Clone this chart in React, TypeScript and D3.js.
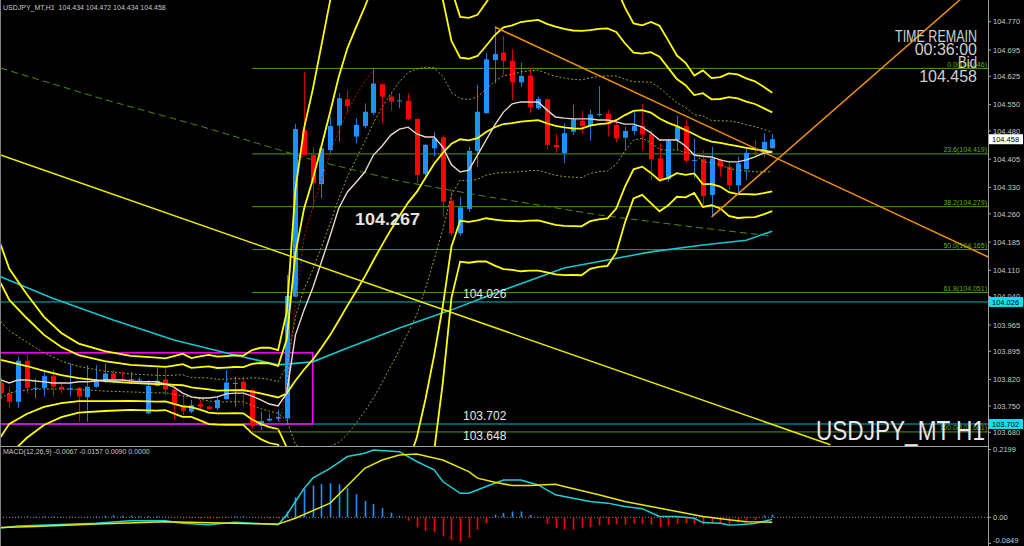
import React from "react";
import * as d3 from "d3";

// ---------- DATA ----------
const FIRST_BAR = -1; // index of first (partial) bar
const opens = [103.811,103.783,103.761,103.870,103.795,103.798,103.829,103.801,103.795,103.798,103.773,103.801,103.815,103.836,103.821,103.820,103.819,103.730,103.803,103.820,103.794,103.752,103.735,103.755,103.748,103.744,103.768,103.810,103.814,103.792,103.697,103.711,103.716,103.717,104.040,104.482,104.416,104.339,104.429,104.494,104.564,104.465,104.493,104.528,104.604,104.571,104.559,104.560,104.512,104.366,104.434,104.463,104.295,104.208,104.273,104.427,104.527,104.668,104.688,104.666,104.609,104.627,104.540,104.564,104.443,104.421,104.478,104.507,104.493,104.524,104.525,104.496,104.462,104.480,104.494,104.472,104.407,104.352,104.456,104.493,104.402,104.405,104.310,104.403,104.385,104.336,104.379,104.422,104.419,104.434];
const highs = [103.824,103.801,103.881,103.890,103.823,103.845,103.847,103.810,103.863,103.800,103.858,103.858,103.863,103.845,103.841,103.840,103.826,103.819,103.850,103.850,103.801,103.779,103.766,103.766,103.752,103.775,103.845,103.828,103.828,103.797,103.735,103.730,103.739,104.098,104.498,104.637,104.438,104.434,104.518,104.580,104.589,104.513,104.553,104.646,104.607,104.580,104.580,104.580,104.512,104.446,104.478,104.469,104.319,104.305,104.438,104.602,104.686,104.756,104.732,104.697,104.661,104.646,104.571,104.566,104.472,104.500,104.549,104.534,104.537,104.599,104.536,104.505,104.491,104.531,104.552,104.482,104.447,104.460,104.520,104.511,104.460,104.429,104.438,104.407,104.394,104.412,104.434,104.456,104.474,104.472];
const lows = [103.771,103.744,103.745,103.783,103.770,103.775,103.775,103.783,103.775,103.708,103.708,103.798,103.810,103.810,103.810,103.808,103.815,103.730,103.801,103.779,103.713,103.726,103.730,103.739,103.739,103.739,103.766,103.748,103.748,103.691,103.686,103.708,103.708,103.699,104.040,104.416,104.275,104.301,104.421,104.451,104.527,104.447,104.487,104.522,104.500,104.534,104.540,104.509,104.341,104.362,104.412,104.252,104.201,104.201,104.265,104.385,104.527,104.606,104.628,104.562,104.597,104.527,104.536,104.431,104.421,104.394,104.469,104.474,104.454,104.518,104.465,104.449,104.429,104.469,104.429,104.350,104.345,104.345,104.429,104.394,104.354,104.283,104.252,104.358,104.323,104.314,104.350,104.412,104.412,104.434];
const closes = [103.784,103.761,103.870,103.798,103.798,103.829,103.801,103.795,103.797,103.775,103.801,103.815,103.836,103.820,103.820,103.820,103.820,103.803,103.817,103.794,103.752,103.737,103.752,103.748,103.742,103.766,103.812,103.811,103.792,103.697,103.710,103.716,103.721,104.042,104.485,104.416,104.341,104.434,104.493,104.567,104.546,104.496,104.531,104.606,104.571,104.558,104.561,104.511,104.363,104.443,104.460,104.292,104.208,104.277,104.427,104.531,104.670,104.684,104.666,104.609,104.626,104.543,104.565,104.443,104.437,104.474,104.511,104.493,104.524,104.525,104.498,104.460,104.480,104.494,104.471,104.405,104.352,104.454,104.491,104.401,104.403,104.307,104.407,104.385,104.336,104.394,104.422,104.419,104.451,104.458];

// fast MA (pale line), one value per bar
const fastMA = [103.819,103.811,103.819,103.819,103.816,103.814,103.811,103.811,103.811,103.814,103.814,103.816,103.819,103.819,103.819,103.816,103.814,103.814,103.814,103.808,103.800,103.784,103.774,103.771,103.771,103.774,103.782,103.784,103.784,103.776,103.766,103.755,103.750,103.784,103.938,104.005,104.063,104.132,104.201,104.275,104.318,104.344,104.371,104.416,104.440,104.469,104.485,104.490,104.472,104.464,104.464,104.437,104.390,104.371,104.376,104.416,104.456,104.496,104.530,104.552,104.557,104.557,104.557,104.536,104.517,104.514,104.512,104.512,104.512,104.509,104.509,104.504,104.498,104.498,104.490,104.475,104.456,104.456,104.456,104.440,104.416,104.413,104.411,104.403,104.398,104.398,104.403,104.411,104.421,104.424];

// Bollinger band readings for bars whose 20-bar window starts off-screen
const bbEarlyK = [-1, 0, 2, 4, 6, 8, 11, 14, 17];
const bbEarlyMid = [103.872, 103.867, 103.856, 103.843, 103.832, 103.824, 103.816, 103.811, 103.808];
const bbEarlyDev = [0.1022, 0.0823, 0.0637, 0.0478, 0.0372, 0.0305, 0.0265, 0.0239, 0.0234];
const BB_PERIOD = 20;

// slow MAs read at sample bars [bar, price]
const greenMA: [number, number][] = [[-1,104.647],[10,104.570],[22,104.493],[35,104.403],[45,104.347],[54,104.310],[68,104.257],[80,104.222],[88,104.201]];
const cyanMA: [number, number][] = [[-1,104.093],[5,104.036],[12,103.978],[19,103.925],[26,103.885],[31,103.859],[35,103.867],[39,103.904],[45,103.957],[51,104.005],[57,104.058],[64,104.116],[74,104.159],[80,104.177],[85,104.190],[88,104.214]];
const redDotted: [number, number][] = [[31,103.686],[32,103.800],[33,104.020],[34,104.198],[35,104.278],[36,104.350],[37,104.420],[38,104.480],[39,104.530],[40,104.575],[41,104.610],[42,104.642]];

// trend lines [bar, price] anchors
const yellowTrend: [number, number][] = [[-1,104.416],[94.7,103.647]];
const orangeDown: [number, number][] = [[56,104.756],[88.9,104.403]];
const orangeUp: [number, number][] = [[81,104.252],[107,104.775]];

// fibonacci
const fibStartBar = 28;
const fibRatios = ["0.0","23.6","38.2","50.0","61.8","100.0"];
const fibValues = [104.646,104.419,104.279,104.165,104.051,103.681];

// rectangle
const rectBars = [-3, 35];
const rectPrices = [103.891, 103.702];

// horizontal lines & labels
const hLines = [104.026, 103.702];
const levelTexts = ["104.026","103.702","103.648"];
const levelTextPrices = [104.026,103.702,103.648];

// price axis
const priceTicks = [104.770,104.695,104.625,104.550,104.480,104.405,104.330,104.260,104.185,104.110,104.040,103.965,103.895,103.820,103.750,103.680];
const bid = 104.458;

// MACD
const macdHist = [0.001,0.001,0.003,0.003,0.002,0.003,0.003,0.002,0.002,0.001,0.002,0.003,0.005,0.006,0.005,0.005,0.004,0.004,0.004,0.002,-0.003,-0.004,-0.003,-0.004,-0.004,-0.004,0.001,0.003,0.003,0.000,-0.003,-0.004,-0.004,0.019,0.065,0.094,0.103,0.108,0.111,0.107,0.096,0.075,0.053,0.043,0.030,0.015,0.005,-0.011,-0.033,-0.044,-0.048,-0.062,-0.073,-0.078,-0.067,-0.040,-0.019,0.008,0.014,0.019,0.019,0.008,0.001,-0.022,-0.035,-0.040,-0.040,-0.035,-0.032,-0.026,-0.024,-0.022,-0.024,-0.020,-0.021,-0.024,-0.032,-0.027,-0.021,-0.019,-0.021,-0.024,-0.019,-0.019,-0.021,-0.017,-0.011,-0.008,0.006,0.009];
const macdMain: [number, number][] = [[-1,-0.035],[1,-0.028],[5,-0.024],[10,-0.019],[14,-0.011],[18,-0.011],[20,-0.019],[23,-0.024],[26,-0.016],[28,-0.019],[31,-0.024],[32,0.008],[34,0.094],[35,0.127],[37,0.159],[39,0.197],[41,0.208],[42,0.218],[45,0.213],[47,0.181],[49,0.154],[50,0.116],[52,0.078],[53,0.078],[55,0.100],[57,0.121],[59,0.121],[61,0.105],[63,0.073],[65,0.062],[67,0.051],[69,0.046],[71,0.035],[73,0.028],[75,0.003],[77,0.003],[79,-0.003],[80,-0.017],[82,-0.019],[83,-0.025],[84,-0.024],[86,-0.020],[88,-0.0067]];
const macdSignal: [number, number][] = [[-1,-0.033],[3,-0.030],[10,-0.022],[18,-0.014],[22,-0.017],[31,-0.022],[33,-0.003],[37,0.046],[41,0.159],[43,0.186],[45,0.202],[47,0.205],[50,0.186],[53,0.148],[54,0.127],[56,0.114],[58,0.103],[60,0.103],[63,0.107],[64,0.100],[68,0.073],[71,0.051],[74,0.035],[77,0.019],[80,0.003],[83,-0.008],[85,-0.014],[88,-0.0157]];
const macdTicks = ["0.2199","0.00","-0.0849"];
const macdTickValues = [0.2199, 0, -0.0849];

const headerText = "USDJPY_MT,H1  104.434 104.472 104.434 104.458";
const macdText = "MACD(12,26,9) -0.0067 -0.0157 0.0090 0.0000";

// ---------- COMPONENT ----------
const FONT = "'Liberation Sans', Arial, sans-serif";

export default function App() {
  const W = 1024, H = 546, R = 988, MB = 446;
  const x = d3.scaleLinear().domain([0, 88]).range([9.3, 772.26]);
  const y = d3.scaleLinear().domain([103.68, 104.77]).range([432.3, 21.7]);
  const ym = d3.scaleLinear().domain([-0.0849, 0.2199]).range([543.5, 449.5]);
  const kOf = (i: number) => i + FIRST_BAR;

  const pline = d3.line<[number, number]>().x(d => x(d[0])).y(d => y(d[1]));
  const mline = d3.line<[number, number]>().x(d => x(d[0])).y(d => ym(d[1]));

  // bollinger
  const bb: { k: number; m: number; s: number }[] = bbEarlyK.map((k, j) => ({ k, m: bbEarlyMid[j], s: bbEarlyDev[j] }));
  for (let i = BB_PERIOD - 1; i < closes.length; i++) {
    const k = kOf(i);
    if (k <= bbEarlyK[bbEarlyK.length - 1]) continue;
    const w = closes.slice(i - BB_PERIOD + 1, i + 1);
    const m = d3.mean(w)!;
    const s = Math.sqrt(d3.mean(w, v => (v - m) * (v - m))!);
    bb.push({ k, m, s });
  }
  const band = (n: number) => pline(bb.map(b => [b.k, b.m + n * b.s] as [number, number]))!;

  const fastPts = fastMA.map((v, i) => [kOf(i), v] as [number, number]);

  const ext = (pts: [number, number][], k2: number): [number, number][] => {
    const [a, b] = pts;
    const slope = (b[1] - a[1]) / (b[0] - a[0]);
    return [a, [k2, a[1] + slope * (k2 - a[0])]];
  };

  const BULL = "#1e90ff", BEAR = "#ff0000";
  const YEL = "#ffff00";
  const FIBC = "#4f9a00";

  return (
    <svg width={W} height={H} style={{ position: "fixed", left: 0, top: 0, display: "block", background: "#000" }} fontFamily={FONT}>
      <defs>
        <clipPath id="mainClip"><rect x={0} y={0} width={R} height={MB} /></clipPath>
        <clipPath id="macdClip"><rect x={0} y={MB + 1} width={R} height={H - MB - 1} /></clipPath>
      </defs>
      <rect x={0} y={0} width={W} height={H} fill="#000" />

      <g clipPath="url(#mainClip)">
        {fibValues.map((v, i) => (
          <line key={"fib" + i} x1={x(fibStartBar)} x2={R} y1={y(v)} y2={y(v)} stroke={FIBC} strokeWidth={1} />
        ))}
        {hLines.map((v, i) => (
          <line key={"h" + i} x1={0} x2={R} y1={y(v)} y2={y(v)} stroke="#00b8c0" strokeWidth={1} />
        ))}
        <rect x={x(rectBars[0])} y={y(rectPrices[0])} width={x(rectBars[1]) - x(rectBars[0])} height={y(rectPrices[1]) - y(rectPrices[0])} fill="none" stroke="#ff00ff" strokeWidth={1.5} />
        <path d={pline(greenMA)!} fill="none" stroke="#4a8c00" strokeWidth={1} strokeDasharray="7,4" />
        <path d={pline(cyanMA)!} fill="none" stroke="#19c3cf" strokeWidth={1.6} />

        {closes.map((c, i) => {
          const o = opens[i], h = highs[i], l = lows[i];
          const cx = Math.round(x(kOf(i))) + 0.5;
          const up = c > o, doji = c === o;
          const col = doji ? "#00c000" : up ? BULL : BEAR;
          const wick = doji ? "#00c000" : up ? "#1a78d8" : "#d00000";
          const top = y(Math.max(o, c)), bot = y(Math.min(o, c));
          return (
            <g key={"c" + i}>
              <line x1={cx} x2={cx} y1={y(h)} y2={y(l)} stroke={wick} strokeWidth={1} />
              {doji ? (
                <line x1={cx - 2.5} x2={cx + 2.5} y1={top} y2={top} stroke={col} strokeWidth={1} />
              ) : (
                <rect x={cx - 2.5} y={top} width={5} height={Math.max(1, bot - top)} fill={col} />
              )}
            </g>
          );
        })}

        <path d={band(1)} fill="none" stroke="#a0a020" strokeWidth={1} strokeDasharray="2,2" />
        <path d={band(-1)} fill="none" stroke="#a0a020" strokeWidth={1} strokeDasharray="2,2" />
        {[3, 2, 0, -2, -3].map(n => (
          <path key={"bb" + n} d={band(n)} fill="none" stroke={YEL} strokeWidth={1.8} />
        ))}
        <path d={pline(redDotted)!} fill="none" stroke="#b01010" strokeWidth={1} strokeDasharray="2,2" />
        <path d={pline(fastPts)!} fill="none" stroke="#eed8d0" strokeWidth={1.4} />

        <path d={pline(yellowTrend)!} fill="none" stroke="#e8e800" strokeWidth={1.5} />
        <path d={pline(ext(orangeDown, 113))!} fill="none" stroke="#f0900a" strokeWidth={1.5} />
        <path d={pline(ext(orangeUp, 110))!} fill="none" stroke="#f0900a" strokeWidth={1.5} />

        {fibValues.map((v, i) => (
          <text key={"fl" + i} x={R - 1} y={y(v) - 1.5} textAnchor="end" fontSize={7} fill="#60b000">
            {fibRatios[i]}({v.toFixed(3)})
          </text>
        ))}

        {levelTexts.map((t, i) => (
          <text key={"lt" + i} x={463} y={y(levelTextPrices[i]) - 4} fontSize={12} fill="#e8e8e8">{t}</text>
        ))}
        <text x={355} y={225} fontSize={16} fontWeight="bold" fill="#e4e4e4" textLength={65} lengthAdjust="spacingAndGlyphs">104.267</text>

        <text x={977} y={41.5} textAnchor="end" fontSize={16} fill="#d0d0d0" textLength={82} lengthAdjust="spacingAndGlyphs">TIME REMAIN</text>
        <text x={977} y={55} textAnchor="end" fontSize={16} fill="#d0d0d0">00:36:00</text>
        <text x={977} y={68.3} textAnchor="end" fontSize={16} fill="#d0d0d0" textLength={19} lengthAdjust="spacingAndGlyphs">Bid</text>
        <text x={977} y={81.7} textAnchor="end" fontSize={16} fill="#d0d0d0">104.458</text>

        <text x={816} y={440} fontSize={27} fill="#e8e8e8" textLength={169} lengthAdjust="spacingAndGlyphs">USDJPY_MT H1</text>
      </g>

      <g clipPath="url(#macdClip)">
        <line x1={0} x2={R} y1={ym(0)} y2={ym(0)} stroke="#909090" strokeWidth={1} strokeDasharray="1,2" />
        {macdHist.map((v, i) => (
          <line key={"mh" + i} x1={Math.round(x(kOf(i))) + 0.5} x2={Math.round(x(kOf(i))) + 0.5} y1={ym(0)} y2={ym(v)} stroke={v >= 0 ? BULL : BEAR} strokeWidth={1.6} />
        ))}
        <path d={mline(macdMain)!} fill="none" stroke="#1ed0d8" strokeWidth={1.5} />
        <path d={mline(macdSignal)!} fill="none" stroke="#e8e800" strokeWidth={1.5} />
      </g>

      <line x1={R + 0.5} x2={R + 0.5} y1={0} y2={H} stroke="#a0a0a0" strokeWidth={1} />
      <line x1={0} x2={R} y1={MB + 0.5} y2={MB + 0.5} stroke="#a0a0a0" strokeWidth={1} />
      <line x1={0.5} x2={0.5} y1={0} y2={H} stroke="#808080" strokeWidth={1} />

      {priceTicks.map((v, i) => (
        <g key={"pt" + i}>
          <line x1={R} x2={R + 3} y1={y(v)} y2={y(v)} stroke="#a0a0a0" />
          <text x={R + 5} y={y(v) + 2.7} fontSize={7.5} fill="#c8c8c8">{v.toFixed(3)}</text>
        </g>
      ))}
      {hLines.map((v, i) => (
        <g key={"hb" + i}>
          <rect x={R + 1} y={y(v) - 5} width={34} height={10} fill="#00e5ee" />
          <text x={R + 4} y={y(v) + 2.7} fontSize={7.5} fill="#000">{v.toFixed(3)}</text>
        </g>
      ))}
      <rect x={R + 1} y={y(bid) - 5} width={34} height={10} fill="#ffffff" />
      <text x={R + 4} y={y(bid) + 2.7} fontSize={7.5} fill="#000">{bid.toFixed(3)}</text>

      {macdTicks.map((t, i) => (
        <g key={"mt" + i}>
          <line x1={R} x2={R + 3} y1={ym(macdTickValues[i])} y2={ym(macdTickValues[i])} stroke="#a0a0a0" />
          <text x={R + 5} y={Math.min(ym(macdTickValues[i]) + 2.7, 543)} fontSize={7.5} fill="#c8c8c8">{t}</text>
        </g>
      ))}

      <text x={3} y={10} fontSize={7} fill="#c8c8c8" style={{ whiteSpace: "pre" }}>{headerText}</text>
      <text x={3} y={454} fontSize={7} fill="#c8c8c8" style={{ whiteSpace: "pre" }}>{macdText}</text>
    </svg>
  );
}
